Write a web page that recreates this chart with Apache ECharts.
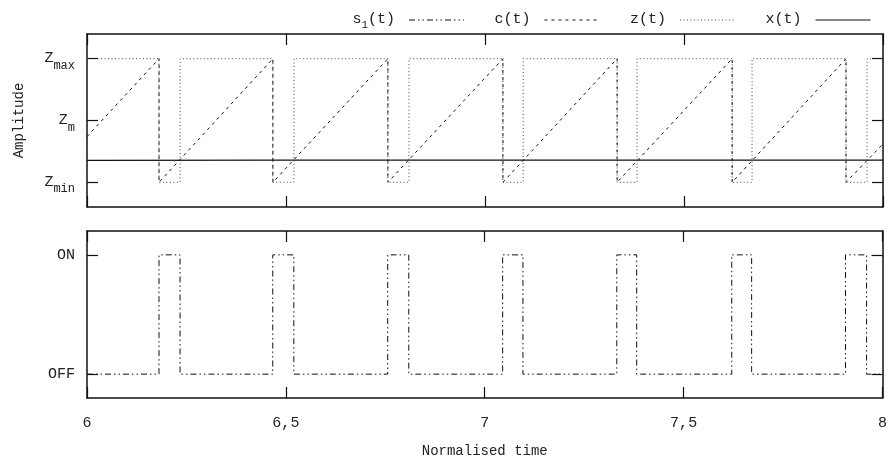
<!DOCTYPE html>
<html>
<head>
<meta charset="utf-8">
<script src="https://cdn.jsdelivr.net/npm/echarts@6/dist/echarts.min.js"></script>
<style>html,body{margin:0;padding:0;background:#fff;}#c{width:890px;height:470px;}</style>
</head>
<body>
<div id="c"></div>
<script>
// ---- data ----
const xTicks = [6, 6.5, 7, 7.5, 8];
const xTickLabels = ['6', '6,5', '7', '7,5', '8'];
const yTopTicks = [0, 0.5, 1];
const yTopMain = ['Z', 'Z', 'Z'];
const yTopSub = ['min', 'm', 'max'];
const yBotTicks = [0, 1];
const yBotLabels = ['OFF', 'ON'];

// c(t): sawtooth carrier (resets from Zmax to Zmin)
const cT = [6, 6.181, 6.181, 6.467, 6.467, 6.756, 6.756, 7.045, 7.045, 7.332, 7.332, 7.621, 7.621, 7.907, 7.907, 8];
const cV = [0.37, 1, 0, 1, 0, 1, 0, 1, 0, 1, 0, 1, 0, 1, 0, 0.31];

// z(t): switching signal between Zmax and Zmin
const zT = [6, 6.181, 6.181, 6.234, 6.234, 6.467, 6.467, 6.520, 6.520, 6.756, 6.756, 6.809, 6.809, 7.045, 7.045, 7.096, 7.096, 7.332, 7.332, 7.382, 7.382, 7.621, 7.621, 7.671, 7.671, 7.907, 7.907, 7.960, 7.960, 8];
const zV = [1, 1, 0, 0, 1, 1, 0, 0, 1, 1, 0, 0, 1, 1, 0, 0, 1, 1, 0, 0, 1, 1, 0, 0, 1, 1, 0, 0, 1, 1];

// s1(t): switch state OFF / ON
const sT = [6, 6.181, 6.181, 6.234, 6.234, 6.467, 6.467, 6.520, 6.520, 6.756, 6.756, 6.809, 6.809, 7.045, 7.045, 7.096, 7.096, 7.332, 7.332, 7.382, 7.382, 7.621, 7.621, 7.671, 7.671, 7.907, 7.907, 7.960, 7.960, 8];
const sV = [0, 0, 1, 1, 0, 0, 1, 1, 0, 0, 1, 1, 0, 0, 1, 1, 0, 0, 1, 1, 0, 0, 1, 1, 0, 0, 1, 1, 0, 0];

// x(t): slowly varying reference
const xT = [6, 6.5, 7, 7.5, 8];
const xV = [0.178, 0.179, 0.179, 0.179, 0.179];

const pairs = (t, v) => t.map((ti, i) => [ti, v[i]]);

const FONT = 'Liberation Mono';
const BLACK = '#111';

function xAxisDef(grid, pos, withLabels) {
  return {
    type: 'value', gridIndex: grid, position: pos, min: 6, max: 8, interval: 0.5,
    axisLine: { show: true, onZero: false, lineStyle: { color: BLACK, width: 1.5 } },
    axisTick: { show: true, inside: true, length: 11, lineStyle: { color: BLACK, width: 1.2 } },
    axisLabel: withLabels ? {
      show: true, margin: 18, fontFamily: FONT, fontSize: 15, color: '#222',
      formatter: v => { const i = xTicks.findIndex(t => Math.abs(t - v) < 1e-9); return i >= 0 ? xTickLabels[i] : ''; }
    } : { show: false },
    splitLine: { show: false },
    name: withLabels ? 'Normalised time' : '',
    nameLocation: 'middle', nameGap: 46,
    nameTextStyle: { fontFamily: FONT, fontSize: 14, color: '#222' }
  };
}
function yAxisDef(grid, pos, ticks, labelOpts, name) {
  return {
    type: 'value', gridIndex: grid, position: pos, min: -0.2, max: 1.2,
    axisLine: { show: true, onZero: false, lineStyle: { color: BLACK, width: 1.5 } },
    axisTick: { show: true, inside: true, length: 11, customValues: ticks, lineStyle: { color: BLACK, width: 1.2 } },
    axisLabel: labelOpts ? Object.assign({ show: true, customValues: ticks }, labelOpts) : { show: false },
    splitLine: { show: false },
    name: name || '', nameLocation: 'middle', nameGap: 61, nameRotate: 90,
    nameTextStyle: { fontFamily: FONT, fontSize: 14, color: '#222' }
  };
}

const chart = echarts.init(document.getElementById('c'), null, { renderer: 'canvas' });
chart.setOption({
  animation: false,
  backgroundColor: '#fff',
  color: ['#111', '#111', '#444', '#111'],
  grid: [
    { left: 87, right: 7, top: 34, height: 173 },
    { left: 87, right: 7, top: 231, height: 167 }
  ],
  legend: {
    top: 7, right: 14, align: 'right', itemGap: 30, itemWidth: 55, itemHeight: 10,
    data: ['s1(t)', 'c(t)', 'z(t)', 'x(t)'],
    itemStyle: { opacity: 0 },
    lineStyle: { width: 1 },
    formatter: name => name === 's1(t)' ? '{m|s}{s|1}{m|(t)}' : '{m|' + name + '}',
    textStyle: {
      fontFamily: FONT, fontSize: 15, color: '#222', padding: [0, 9, 0, 0],
      rich: {
        m: { fontFamily: FONT, fontSize: 15, color: '#222', lineHeight: 16, verticalAlign: 'top' },
        s: { fontFamily: FONT, fontSize: 11, color: '#222', lineHeight: 12, padding: [8, 0, 0, 0], verticalAlign: 'top' }
      }
    }
  },
  xAxis: [
    xAxisDef(0, 'bottom', false),
    xAxisDef(0, 'top', false),
    xAxisDef(1, 'bottom', true),
    xAxisDef(1, 'top', false)
  ],
  yAxis: [
    yAxisDef(0, 'left', yTopTicks, {
      margin: 12, color: '#222',
      formatter: v => { const i = yTopTicks.findIndex(t => Math.abs(t - v) < 1e-9); return i >= 0 ? '{m|' + yTopMain[i] + '}{s|' + yTopSub[i] + '}' : ''; },
      rich: {
        m: { fontFamily: FONT, fontSize: 15, color: '#222', lineHeight: 16, verticalAlign: 'top' },
        s: { fontFamily: FONT, fontSize: 12, color: '#222', lineHeight: 12, padding: [9, 0, 0, 0], verticalAlign: 'top' }
      }
    }, 'Amplitude'),
    yAxisDef(0, 'right', yTopTicks, null),
    yAxisDef(1, 'left', yBotTicks, {
      margin: 12, fontFamily: FONT, fontSize: 15, color: '#222',
      formatter: v => { const i = yBotTicks.findIndex(t => Math.abs(t - v) < 1e-9); return i >= 0 ? yBotLabels[i] : ''; }
    }),
    yAxisDef(1, 'right', yBotTicks, null)
  ],
  series: [
    {
      name: 's1(t)', type: 'line', xAxisIndex: 2, yAxisIndex: 2, data: pairs(sT, sV),
      showSymbol: false, symbol: 'none', itemStyle: { color: '#111' },
      lineStyle: { color: '#111', width: 1, type: [6, 3, 1.5, 3, 1.5, 3] }
    },
    {
      name: 'c(t)', type: 'line', xAxisIndex: 0, yAxisIndex: 0, data: pairs(cT, cV),
      showSymbol: false, symbol: 'none', itemStyle: { color: '#111' },
      lineStyle: { color: '#111', width: 1, type: [3, 4] }
    },
    {
      name: 'z(t)', type: 'line', xAxisIndex: 0, yAxisIndex: 0, data: pairs(zT, zV),
      showSymbol: false, symbol: 'none', itemStyle: { color: '#444' },
      lineStyle: { color: '#444', width: 1, type: [1, 2.5] }
    },
    {
      name: 'x(t)', type: 'line', xAxisIndex: 0, yAxisIndex: 0, data: pairs(xT, xV),
      showSymbol: false, symbol: 'none', itemStyle: { color: '#111' },
      lineStyle: { color: '#111', width: 1.2, type: 'solid' }
    }
  ]
});
</script>
</body>
</html>
